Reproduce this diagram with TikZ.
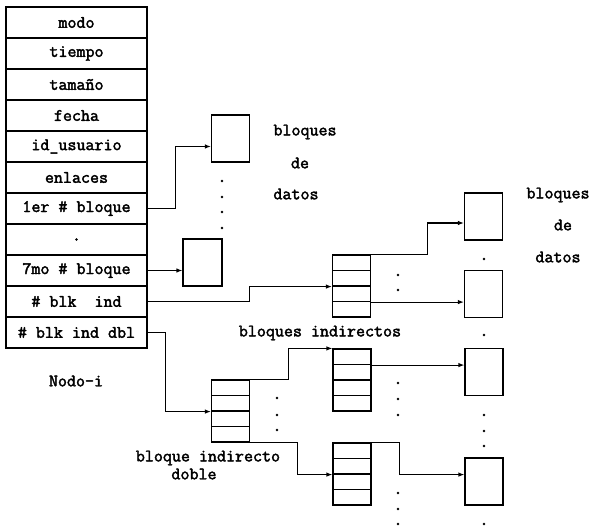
\documentclass[tikz,border=0pt]{standalone}
\usepackage{fontspec}
\newfontfamily\codefont[FakeBold=2.2]{Latin Modern Mono}
\usetikzlibrary{arrows.meta,calc}
\begin{document}
\begin{tikzpicture}[x=1pt,y=-1pt,
  line width=1.15pt,
  lbl/.style={font=\codefont\fontsize{17.5}{18}\selectfont, inner sep=0pt},
  cell/.style={lbl, draw, minimum width=141pt, minimum height=31pt},
  slot/.style={draw, minimum width=38pt, minimum height=15.5pt, inner sep=0pt},
  blk/.style={draw, minimum width=38pt, minimum height=47pt, inner sep=0pt},
  arr/.style={-{Latex[length=6pt,width=4.5pt]}},
  dot/.style={fill, circle, minimum size=2.6pt, inner sep=0pt}
]
\useasboundingbox (0,0) rectangle (593,526);

% i-node table
\foreach \t [count=\i from 0] in {modo,tiempo,tama\~no,fecha,id\_usuario,enlaces,1er \# bloque,.,7mo \# bloque,\# blk\ \ ind,\# blk ind dbl}
  \node[cell] (r\i) at (76.5,{22.5+31*\i}) {\t};
\node[lbl] (nodoi) at (76,381) {Nodo-i};

% direct data blocks
\node[blk] (b1) at (230.5,138.5) {};
\node[blk, minimum width=39pt] (b2) at (202.5,262.5) {};
\foreach \y in {181,197,212,228} \node[dot] at (222,\y) {};
\node[lbl] (t1) at (305,132) {bloques};
\node[lbl] (t2) at (300,163) {de};
\node[lbl] (t3) at (296,194) {datos};

% single indirect block
\foreach \k in {1,...,4} \node[slot] (ia\k) at (351.5,{247.25+15.5*\k}) {};
% double indirect block
\foreach \k in {1,...,4} \node[slot] (da\k) at (230.5,{372.25+15.5*\k}) {};
% indirect blocks reached from the double one
\foreach \k in {1,...,4} \node[slot] (ib\k) at (352,{341.25+15.5*\k}) {};
\foreach \k in {1,...,4} \node[slot] (ic\k) at (352,{435.25+15.5*\k}) {};

% data blocks on the right
\node[blk] (d1) at (483.5,216.5) {};
\node[blk] (d2) at (483.5,294) {};
\node[blk] (d3) at (484,372) {};
\node[blk] (d4) at (484,481.5) {};
\node[lbl] (t4) at (558,195) {bloques};
\node[lbl] (t5) at (563,225) {de};
\node[lbl] (t6) at (558,257) {datos};

\node[lbl] (t7) at (320,333) {bloques indirectos};
\node[lbl] (t8) at (208,458) {bloque indirecto};
\node[lbl] (t9) at (194,474) {doble};

% ellipsis dots
\foreach \y in {275,290} \node[dot] at (398,\y) {};
\foreach \y in {259,335,415,431,446,524} \node[dot] at (484,\y) {};
\foreach \y in {398,415,430} \node[dot] at (277,\y) {};
\foreach \y in {383,399,415,493,509,524} \node[dot] at (398,\y) {};

% pointers from the i-node
\draw[arr] (r6.east) -- ++(28,0) |- ($(b1.west)+(0,8)$);
\draw[arr] (r8.east) -- (r8.east -| b2.west);
\draw[arr] (r9.east) -- ++(102,0) |- (ia2.south west);
\draw[arr] (r10.east) -- ++(18,0) |- (da2.south west);

% pointers from the single indirect block
\draw[arr] (ia1.north east) -- ++(56,0) |- ($(d1.west)+(0,6.5)$);
\draw[arr] (ia3.south east) -- (ia3.south east -| d2.west);

% pointers from the double indirect block
\draw[arr] (da1.north east) -- ++(38,0) |- (ib1.north west);
\draw[arr] (da4.south east) -- ++(47,0) |- (ic2.south west);

% pointers from the second-level indirect blocks
\draw[arr] (ib1.south east) -- (ib1.south east -| d3.west);
\draw[arr] (ic1.north east) -- ++(28,0) |- (ic2.south east -| d4.west);
\end{tikzpicture}
\end{document}
